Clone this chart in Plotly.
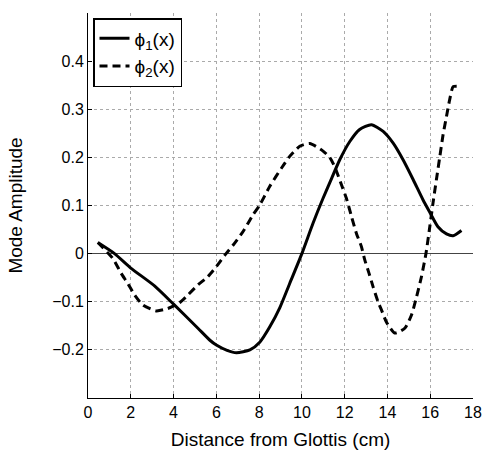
import plotly.graph_objects as go

# phi_1(x) - solid
x1 = [0.46, 1.24, 2.0, 3.11, 4.0, 5.14, 5.7, 6.0, 6.5, 6.94, 7.57, 8.03, 8.5, 8.97, 9.43, 10.0,
      10.52, 10.99, 11.3, 11.77, 12.24, 12.7, 13.25, 13.8, 14.26, 14.73, 15.2, 15.66, 15.98,
      16.36, 16.76, 17.07, 17.46]
y1 = [0.023, 0.0, -0.030, -0.067, -0.105, -0.155, -0.180, -0.190, -0.201, -0.206, -0.200, -0.184,
      -0.152, -0.112, -0.062, 0.0, 0.063, 0.115, 0.147, 0.195, 0.233, 0.258, 0.268, 0.254, 0.230,
      0.195, 0.154, 0.112, 0.086, 0.056, 0.041, 0.037, 0.048]

# phi_2(x) - dashed
x2 = [0.46, 1.16, 1.55, 1.86, 2.18, 2.57, 3.19, 3.73, 4.28, 4.67, 5.14, 5.6, 6.0, 6.4, 6.79,
      7.25, 7.72, 8.03, 8.5, 9.05, 9.43, 9.9, 10.37, 10.99, 11.3, 11.54, 11.85, 12.08, 12.32,
      12.55, 12.78, 12.94, 13.14, 13.33, 13.56, 13.72, 13.95, 14.34, 14.81, 15.12, 15.36, 15.59,
      15.8, 15.98, 16.13, 16.29, 16.45, 16.6, 16.76, 16.91, 17.07, 17.3, 17.42]
y2 = [0.023, -0.01, -0.041, -0.062, -0.086, -0.107, -0.119, -0.114, -0.102, -0.086, -0.065,
      -0.048, -0.027, -0.003, 0.018, 0.046, 0.081, 0.101, 0.14, 0.178, 0.202, 0.223, 0.229, 0.213,
      0.200, 0.180, 0.143, 0.115, 0.077, 0.042, 0.015, -0.013, -0.041, -0.069, -0.1, -0.117,
      -0.142, -0.165, -0.155, -0.128, -0.09, -0.048, 0.0, 0.056, 0.105, 0.154, 0.202, 0.247,
      0.285, 0.32, 0.347, 0.348, 0.348]

x_ticks = [0, 2, 4, 6, 8, 10, 12, 14, 16, 18]
y_ticks = [-0.2, -0.1, 0, 0.1, 0.2, 0.3, 0.4]
y_labels = ["\u22120.2", "\u22120.1", "0", "0.1", "0.2", "0.3", "0.4"]

fig = go.Figure()
fig.add_trace(go.Scatter(x=x1, y=y1, mode="lines", name="\u03d5<sub>1</sub>(x)",
                         line=dict(color="black", width=3, shape="spline", smoothing=0.6)))
fig.add_trace(go.Scatter(x=x2, y=y2, mode="lines", name="\u03d5<sub>2</sub>(x)",
                         line=dict(color="black", width=3, dash="8px,5px", shape="spline", smoothing=0.6)))

fam = "Liberation Sans, Arial, sans-serif"
fig.update_layout(
    width=485, height=450,
    margin=dict(l=88, r=12, t=13, b=52),
    paper_bgcolor="white", plot_bgcolor="white",
    font=dict(family=fam, size=16, color="black"),
    showlegend=True,
    legend=dict(x=0.013, y=0.987, xanchor="left", yanchor="top",
                bordercolor="black", borderwidth=1.5, bgcolor="white",
                font=dict(family=fam, size=19, color="black"),
                tracegroupgap=4),
)
fig.update_xaxes(range=[0, 18], tickvals=x_ticks, showline=True, linecolor="black", linewidth=1,
                 ticks="inside", ticklen=4, tickcolor="black", showgrid=True, gridcolor="#aaaaaa",
                 griddash="dot", gridwidth=1, zeroline=False, mirror=False, automargin=False,
                 title=dict(text="Distance from Glottis (cm)", standoff=12))
fig.update_yaxes(range=[-0.3, 0.5], tickvals=y_ticks, ticktext=y_labels, showline=True, linecolor="black",
                 linewidth=1, ticks="inside", ticklen=4, tickcolor="black", showgrid=True,
                 gridcolor="#aaaaaa", griddash="dot", gridwidth=1, zeroline=True,
                 zerolinecolor="#444444", zerolinewidth=1.2, mirror=False, automargin=False,
                 title=dict(text="Mode Amplitude", standoff=24))

fig.write_html("out.html")
